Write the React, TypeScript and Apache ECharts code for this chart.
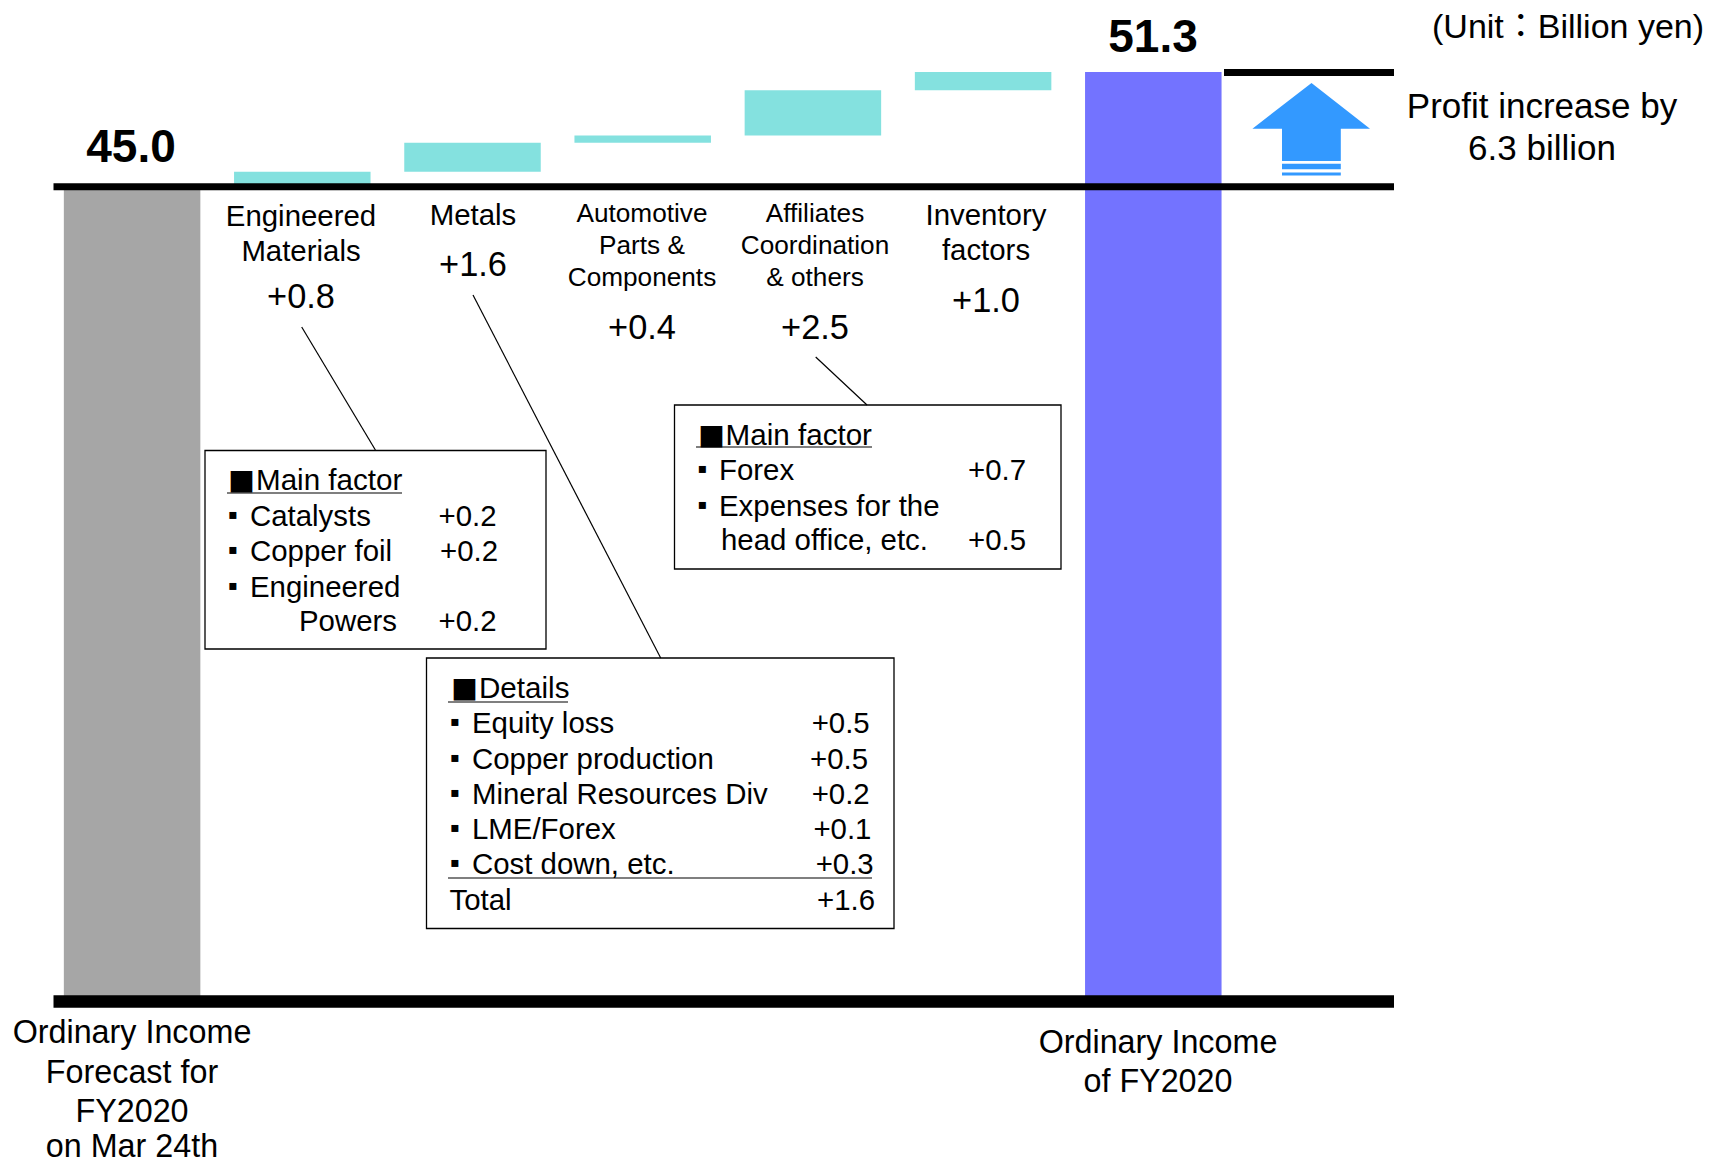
import React, { useEffect, useRef } from "react";
import * as echarts from "echarts";

const categories = ["Forecast", "Engineered Materials", "Metals", "Automotive Parts & Components", "Affiliates Coordination & others", "Inventory factors", "Result"];
const offsets = [0, 45, 45.8, 47.4, 47.8, 50.3, 0];
const amounts = [45.0, 0.8, 1.6, 0.4, 2.5, 1.0, 51.3];
const ruleLevels = [0, 45, 51.3];

const SANS = "'Liberation Sans', Arial, sans-serif";
const CJK = "'Noto Sans CJK JP', sans-serif";
const GREY = "#A6A6A6";
const CYAN = "#84E1DF";
const BLUE = "#7373FF";
const ARROW = "#3399FF";
const barColors = [GREY, CYAN, CYAN, CYAN, CYAN, CYAN, BLUE];

const BODY = 29.4;
const SMALL = 26.2;
const VALUE = 34.4;
const END = 32.3;

const T = (text: string, x: number, y: number, fontSize: number, textAlign = "center", extra: any = {}) => ({
  type: "text",
  z: 20,
  silent: true,
  style: { text, x, y, fontSize, fontFamily: SANS, fill: "#000", textAlign, textVerticalAlign: "middle", ...extra },
});
const Box = (x: number, y: number, x2: number, y2: number) => ({
  type: "rect",
  z: 10,
  silent: true,
  shape: { x, y, width: x2 - x, height: y2 - y },
  style: { fill: "#fff", stroke: "#000", lineWidth: 1.3 },
});
const L = (x1: number, y1: number, x2: number, y2: number, lineWidth = 1.2) => ({
  type: "line",
  z: 15,
  silent: true,
  shape: { x1, y1, x2, y2 },
  style: { stroke: "#000", lineWidth },
});
const Sq = (x: number, y: number) => T("■", x, y, 27, "left", { fontFamily: CJK });
const Dot = (x: number, y: number) => T("▪", x, y - 2, 14, "center", { fontFamily: "'DejaVu Sans', sans-serif" });
const Rect = (x: number, y: number, w: number, h: number) => ({
  type: "rect",
  z: 12,
  silent: true,
  shape: { x, y, width: w, height: h },
  style: { fill: ARROW },
});

const graphics: any[] = [
  // headline numbers
  T("45.0", 131, 146, 46, "center", { fontWeight: "bold" }),
  T("51.3", 1153, 36, 46, "center", { fontWeight: "bold" }),
  T("(Unit：Billion yen)", 1432, 26, 34, "left", { fontFamily: `'Liberation Sans', ${CJK}` }),
  T("Profit increase by", 1542, 105, 35),
  T("6.3 billion", 1542, 147, 35),
  // category labels
  T("Engineered", 301, 215, BODY),
  T("Materials", 301, 250, BODY),
  T("+0.8", 301, 296, VALUE),
  T("Metals", 473, 214, BODY),
  T("+1.6", 473, 264, VALUE),
  T("Automotive", 642, 213, SMALL),
  T("Parts &", 642, 245, SMALL),
  T("Components", 642, 277, SMALL),
  T("+0.4", 642, 327, VALUE),
  T("Affiliates", 815, 213, SMALL),
  T("Coordination", 815, 245, SMALL),
  T("& others", 815, 277, SMALL),
  T("+2.5", 815, 327, VALUE),
  T("Inventory", 986, 214, BODY),
  T("factors", 986, 249, BODY),
  T("+1.0", 986, 300, VALUE),
  // end labels
  T("Ordinary Income", 132, 1032, END),
  T("Forecast for", 132, 1072, END),
  T("FY2020", 132, 1111, END),
  T("on Mar 24th", 132, 1146, END),
  T("Ordinary Income", 1158, 1042, END),
  T("of FY2020", 1158, 1081, END),
  // leaders
  L(301.7, 327, 375.4, 450),
  L(473, 295, 660.7, 658),
  L(815.7, 357, 867, 405),
  // box 1
  Box(205, 450.5, 546, 649),
  Sq(228, 480), T("Main factor", 256, 479, 29.6, "left"), L(227, 493, 402, 493),
  Dot(233, 516), T("Catalysts", 250, 515, BODY, "left"), T("+0.2", 438.6, 515, BODY, "left"),
  Dot(233, 551), T("Copper foil", 250, 550, BODY, "left"), T("+0.2", 440, 550, BODY, "left"),
  Dot(233, 587), T("Engineered", 250, 586, BODY, "left"),
  T("Powers", 299, 620, BODY, "left"), T("+0.2", 438.6, 620, BODY, "left"),
  // box 3
  Box(674.5, 405, 1061, 569),
  Sq(698, 435), T("Main factor", 725.6, 434, 29.6, "left"), L(696, 447, 872, 447),
  Dot(702.6, 470), T("Forex", 719, 469, BODY, "left"), T("+0.7", 968, 469, BODY, "left"),
  Dot(702.6, 506), T("Expenses for the", 719, 505, BODY, "left"),
  T("head office, etc.", 721, 539, BODY, "left"), T("+0.5", 968, 539, BODY, "left"),
  // box 2
  Box(426.5, 658, 894, 928.5),
  Sq(451, 688.6), T("Details", 479, 687.6, 29.6, "left"), L(448, 702, 568, 702),
  Dot(455, 723), T("Equity loss", 472, 722, BODY, "left"), T("+0.5", 811.7, 722, BODY, "left"),
  Dot(455, 759), T("Copper production", 472, 758, BODY, "left"), T("+0.5", 810, 758, BODY, "left"),
  Dot(455, 794), T("Mineral Resources Div", 472, 793, BODY, "left"), T("+0.2", 811.7, 793, BODY, "left"),
  Dot(455, 829), T("LME/Forex", 472, 828, BODY, "left"), T("+0.1", 813.4, 828, BODY, "left"),
  Dot(455, 864), T("Cost down, etc.", 472, 863, BODY, "left"), T("+0.3", 815.7, 863, BODY, "left"),
  L(448, 878, 872, 878),
  T("Total", 449.5, 899, BODY, "left"), T("+1.6", 817, 899, BODY, "left"),
  // arrow
  {
    type: "polygon",
    z: 12,
    silent: true,
    shape: { points: [[1311.5, 83], [1370, 128.7], [1340.8, 128.7], [1340.8, 161], [1282, 161], [1282, 128.7], [1252.4, 128.7]] },
    style: { fill: ARROW },
  },
  Rect(1282, 163.7, 58.8, 5.6),
  Rect(1282, 172.6, 58.8, 2.8),
];

export default function App() {
  const ref = useRef<HTMLDivElement>(null);
  useEffect(() => {
    document.body.style.margin = "0";
    const chart = echarts.init(ref.current!, undefined, { renderer: "svg" });
    chart.setOption({
      animation: false,
      backgroundColor: "#fff",
      grid: { left: 47, top: 72, width: 1191.4, height: 930 },
      xAxis: { type: "category", data: categories, show: false },
      yAxis: { type: "value", min: 0, max: 51.3, show: false },
      series: [
        { type: "bar", stack: "w", data: offsets, barWidth: 136.5, silent: true, itemStyle: { color: "transparent" } },
        {
          type: "bar",
          stack: "w",
          barWidth: 136.5,
          silent: true,
          data: amounts.map((v, i) => ({ value: v, itemStyle: { color: barColors[i] } })),
        },
      ],
    });
    const rules = ruleLevels.map((lvl) => {
      const y = chart.convertToPixel({ yAxisIndex: 0 }, lvl) as number;
      const isTop = lvl > 50;
      const h = lvl === 0 ? 12.5 : 7;
      const x = isTop ? 1224 : 53.5;
      return {
        type: "rect",
        z: 18,
        silent: true,
        shape: { x, y: y - h / 2 + (lvl === 0 ? -0.5 : 0.5), width: 1394 - x, height: h },
        style: { fill: "#000" },
      };
    });
    chart.setOption({ graphic: { elements: [...rules, ...graphics] } });
    return () => chart.dispose();
  }, []);
  return <div ref={ref} style={{ width: 1710, height: 1163 }} />;
}
